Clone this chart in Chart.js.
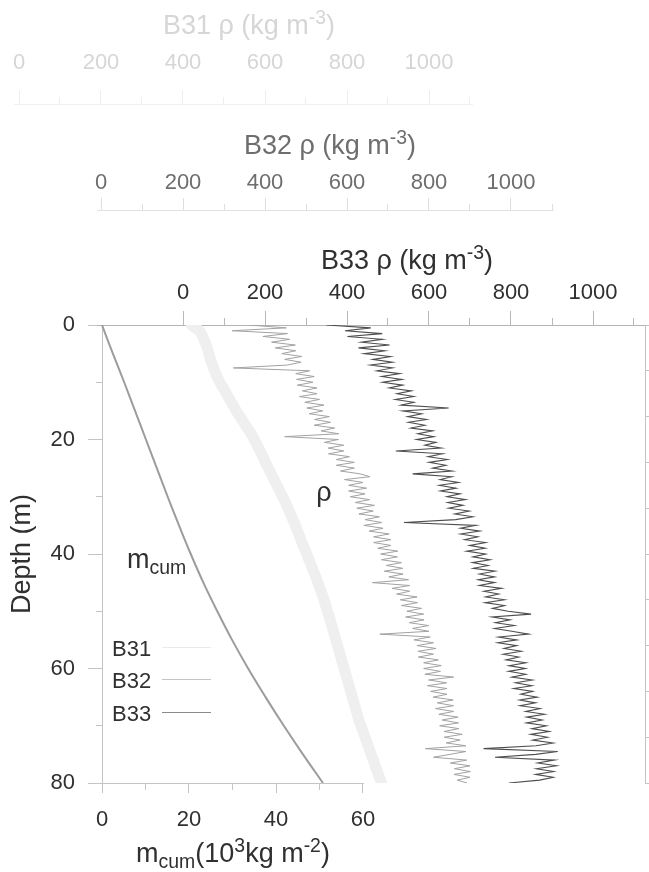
<!DOCTYPE html>
<html>
<head>
<meta charset="utf-8">
<script src="https://cdn.jsdelivr.net/npm/chart.js@4.4.1/dist/chart.umd.min.js"></script>
<style>
html,body{margin:0;padding:0;background:#fff;}
#wrap{width:649px;height:872px;position:relative;}
canvas{display:block;}
</style>
</head>
<body>
<div id="wrap"><canvas id="c" width="649" height="872"></canvas></div>
<script>
// ---------------- data ----------------
const SERIES = ['B31', 'B32', 'B33'];
// depth (m), 1 m steps (B31 profile)
const DEPTH = [0,1,2,3,4,5,6,7,8,9,10,11,12,13,14,15,16,17,18,19,20,21,22,23,24,25,26,27,28,29,30,31,32,33,34,35,36,37,38,39,40,41,42,43,44,45,46,47,48,49,50,51,52,53,54,55,56,57,58,59,60,61,62,63,64,65,66,67,68,69,70,71,72,73,74,75,76,77,78,79,80];
// depth (m), 0.5 m steps (B32, B33 profiles)
const DEPTH_HALF = [0,0.5,1,1.5,2,2.5,3,3.5,4,4.5,5,5.5,6,6.5,7,7.5,8,8.5,9,9.5,10,10.5,11,11.5,12,12.5,13,13.5,14,14.5,15,15.5,16,16.5,17,17.5,18,18.5,19,19.5,20,20.5,21,21.5,22,22.5,23,23.5,24,24.5,25,25.5,26,26.5,27,27.5,28,28.5,29,29.5,30,30.5,31,31.5,32,32.5,33,33.5,34,34.5,35,35.5,36,36.5,37,37.5,38,38.5,39,39.5,40,40.5,41,41.5,42,42.5,43,43.5,44,44.5,45,45.5,46,46.5,47,47.5,48,48.5,49,49.5,50,50.5,51,51.5,52,52.5,53,53.5,54,54.5,55,55.5,56,56.5,57,57.5,58,58.5,59,59.5,60,60.5,61,61.5,62,62.5,63,63.5,64,64.5,65,65.5,66,66.5,67,67.5,68,68.5,69,69.5,70,70.5,71,71.5,72,72.5,73,73.5,74,74.5,75,75.5,76,76.5,77,77.5,78,78.5,79,79.5,80];
const RHO_B31 = [420,440,448,454,459,463,467,472,477,483,490,498,506,514,522,530,539,548,557,566,574,581,588,595,601,608,615,622,629,636,643,650,656,662,668,674,679,685,690,696,702,707,713,718,724,729,734,739,744,748,752,757,761,765,769,773,777,781,785,789,793,797,801,805,809,813,817,821,825,829,834,839,844,849,854,859,864,869,874,879,884];
const RHO_B32 = [
  360,452,320,455,395,460,416,474,425,475,
  441,490,448,488,454,323,509,475,520,477,
  517,479,527,491,527,484,533,497,544,502,
  541,508,557,521,560,520,570,537,580,448,
  579,545,592,554,592,555,606,574,618,574,
  618,584,632,656,594,639,604,648,604,644,
  608,655,620,667,624,664,629,679,644,685,
  641,688,654,703,665,707,665,707,675,724,
  682,723,684,733,696,736,691,737,702,750,
  662,753,710,753,721,771,730,772,733,782,
  746,787,743,788,752,799,760,800,680,803,
  763,811,771,817,773,811,774,823,787,830,
  787,828,790,860,799,843,796,844,804,844,
  810,859,820,860,816,860,824,871,832,872,
  826,873,837,881,837,876,842,890,791,890,
  851,811,892,852,900,862,901,861,900,869,
  893];
const RHO_B33 = [
  350,458,395,486,401,486,435,504,428,492,
  442,506,463,511,457,511,473,529,485,534,
  487,536,503,557,522,563,518,563,532,648,
  536,582,548,594,550,590,556,609,573,612,
  570,617,590,630,519,633,598,645,600,641,
  609,656,560,656,627,672,625,666,628,676,
  644,689,646,683,648,698,663,707,665,539,
  714,677,724,677,719,687,738,699,737,692,
  738,707,749,706,744,708,761,723,760,720,
  760,723,777,734,770,738,784,737,784,755,
  793,849,754,798,762,808,760,802,843,770,
  814,768,814,783,825,781,819,788,836,795,
  835,794,836,802,852,811,851,807,853,824,
  864,821,860,822,871,836,882,838,876,838,
  886,851,893,848,889,853,903,861,733,914,
  860,761,906,865,911,862,904,860,903,870,
  795];
const MCUM_DEPTH = [0,5,10,15,20,25,30,35,40,45,50,55,60,65,70,75,80];
const MCUM = [0,2.5,5.1,7.6,10.1,12.6,15.1,17.7,20.4,23.3,26.5,29.9,33.6,37.6,41.8,46.2,50.8];

// tick labels
const RHO_TICKS = [0,200,400,600,800,1000];
const RHO_MINOR_TICKS = [100,300,500,700,900,1100];
const DEPTH_TICKS = [0,20,40,60,80];
const DEPTH_MINOR_TICKS = [10,30,50,70];
const RIGHT_TICKS = [0,8,16,24,32,40,48,56,64,72,80];
const MCUM_TICKS = [0,20,40,60];
const MCUM_MINOR_TICKS = [10,30,50];

// ---------------- layout / style ----------------
const FONT = "'Liberation Sans', Arial, Helvetica, sans-serif";
const K_RHO = 0.41, K_M = 4.35;
const GEO = {
  xB31: {left: 14, right: 472, top: 0, bottom: 104, zero: 19, k: K_RHO},
  xB32: {left: 97, right: 553, top: 118, bottom: 210, zero: 101, k: K_RHO},
  xB33: {left: 97, right: 645, top: 233, bottom: 325, zero: 183, k: K_RHO},
  x:    {left: 88, right: 363, zero: 102, k: K_M}
};
function lim(id) { const g = GEO[id]; return {min: (g.left - g.zero) / g.k, max: (g.right - g.zero) / g.k}; }
function tickList(a, b) { return a.concat(b).sort((p, q) => p - q).map(v => ({value: v})); }
function isMajor(ctx, arr) { return !!(ctx.tick && arr.includes(ctx.tick.value)); }

const geomPlugin = {
  id: 'geom',
  afterLayout(chart) {
    for (const id in GEO) {
      const s = chart.scales[id], g = GEO[id];
      if (!s) continue;
      s.left = g.left; s.right = g.right; s.width = g.right - g.left;
      if (g.top !== undefined) { s.top = g.top; s.bottom = g.bottom; s.height = g.bottom - g.top; }
      s.configure();
    }
  }
};

function rich(ctx, parts, x, baseY, size, color, align) {
  const ratio = 0.72;
  const pcs = parts.map(([t, m]) => {
    const s = m ? size * ratio : size;
    ctx.font = s + 'px ' + FONT;
    return {t, m, s, w: ctx.measureText(t).width};
  });
  const total = pcs.reduce((a, p) => a + p.w, 0);
  let cx = align === 'center' ? x - total / 2 : x;
  ctx.save();
  ctx.fillStyle = color; ctx.textBaseline = 'alphabetic'; ctx.textAlign = 'left';
  for (const p of pcs) {
    ctx.font = p.s + 'px ' + FONT;
    const dy = p.m === 'sup' ? -size * 0.38 : (p.m === 'sub' ? size * 0.24 : 0);
    ctx.fillText(p.t, cx, baseY + dy);
    cx += p.w;
  }
  ctx.restore();
}

const LEGEND = [
  {name: SERIES[0], color: '#eaeaea', y: 648},
  {name: SERIES[1], color: '#c4c4c4', y: 680},
  {name: SERIES[2], color: '#8a8a8a', y: 713}
];

const textPlugin = {
  id: 'texts',
  afterDraw(chart) {
    const ctx = chart.ctx;
    const rhoUnit = (name) => [[name + ' ρ (kg m', ''], ['-3', 'sup'], [')', '']];
    rich(ctx, rhoUnit(SERIES[0]), 249, 34, 27, '#d6d6d6', 'center');
    rich(ctx, rhoUnit(SERIES[1]), 330, 154, 27, '#6e6e6e', 'center');
    rich(ctx, rhoUnit(SERIES[2]), 407, 269, 27, '#303030', 'center');
    rich(ctx, [['m', ''], ['cum', 'sub'], ['(10', ''], ['3', 'sup'], ['kg m', ''], ['-2', 'sup'], [')', '']], 233, 862, 27, '#303030', 'center');
    rich(ctx, [['ρ', '']], 324, 501, 27, '#303030', 'center');
    rich(ctx, [['m', ''], ['cum', 'sub']], 127, 568, 27, '#303030', 'left');
    for (const L of LEGEND) {
      rich(ctx, [[L.name, '']], 112, L.y + 8, 22, '#303030', 'left');
      ctx.save();
      ctx.strokeStyle = L.color; ctx.lineWidth = 1;
      ctx.beginPath(); ctx.moveTo(162, L.y - 0.5); ctx.lineTo(211, L.y - 0.5); ctx.stroke();
      ctx.restore();
    }
  }
};

function rhoAxis(id, weight, height, tl, minor, pad, labelColor, tickColor, borderColor) {
  const l = lim(id);
  return {
    type: 'linear', position: 'top', weight: weight, bounds: 'data',
    min: l.min, max: l.max,
    afterBuildTicks: s => { s.ticks = tickList(RHO_TICKS, RHO_MINOR_TICKS); },
    afterFit: s => { s.height = height; s.paddingLeft = 0; s.paddingRight = 0; },
    ticks: {autoSkip: false, maxRotation: 0, color: labelColor, font: {size: 22}, padding: pad,
      callback: v => RHO_TICKS.includes(v) ? String(v) : ''},
    grid: {drawOnChartArea: false, tickLength: tl, color: tickColor, tickColor: tickColor,
      tickBorderDash: c => isMajor(c, RHO_TICKS) ? [] : [minor, tl - minor],
      tickBorderDashOffset: c => isMajor(c, RHO_TICKS) ? 0 : minor},
    border: {color: borderColor, width: 1},
    title: {display: false}
  };
}

const xl = lim('x');
const prof = (depths, arr) => depths.map((d, i) => ({x: arr[i], y: d}));

Chart.defaults.font.family = FONT;
Chart.defaults.color = '#303030';

new Chart(document.getElementById('c'), {
  type: 'scatter',
  data: {
    datasets: [
      {label: SERIES[0], data: prof(DEPTH, RHO_B31), xAxisID: 'xB31', yAxisID: 'y', showLine: true,
        borderColor: '#efefef', borderWidth: 11, pointRadius: 0, tension: 0.3, borderCapStyle: 'round'},
      {label: SERIES[1], data: prof(DEPTH_HALF, RHO_B32), xAxisID: 'xB32', yAxisID: 'y', showLine: true,
        borderColor: '#a2a2a2', borderWidth: 1, pointRadius: 0, tension: 0},
      {label: SERIES[2], data: prof(DEPTH_HALF, RHO_B33), xAxisID: 'xB33', yAxisID: 'y', showLine: true,
        borderColor: '#4e4e4e', borderWidth: 1.1, pointRadius: 0, tension: 0},
      {label: 'mcum', data: prof(MCUM_DEPTH, MCUM), xAxisID: 'x', yAxisID: 'y', showLine: true,
        borderColor: '#9c9c9c', borderWidth: 2, pointRadius: 0, tension: 0.4}
    ]
  },
  options: {
    responsive: false, animation: false, events: [],
    layout: {padding: 0, autoPadding: false},
    plugins: {legend: {display: false}, tooltip: {enabled: false}},
    scales: {
      y: {
        type: 'linear', position: 'left', reverse: true, min: 0, max: 80, weight: 1, bounds: 'data',
        afterBuildTicks: s => { s.ticks = tickList(DEPTH_TICKS, DEPTH_MINOR_TICKS); },
        afterFit: s => { s.width = 102; s.paddingTop = 0; s.paddingBottom = 0; },
        ticks: {autoSkip: false, color: '#303030', font: {size: 22}, padding: 13,
          callback: v => DEPTH_TICKS.includes(v) ? String(v) : ''},
        grid: {drawOnChartArea: false, tickLength: 14, color: '#c4c4c4', tickColor: '#c4c4c4',
          tickBorderDash: c => isMajor(c, DEPTH_TICKS) ? [] : [6, 8],
          tickBorderDashOffset: c => isMajor(c, DEPTH_TICKS) ? 0 : 6},
        border: {color: '#c4c4c4', width: 1},
        title: {display: true, text: 'Depth (m)', color: '#303030', font: {size: 27}, padding: {top: 6, bottom: 0}}
      },
      yR: {
        type: 'linear', position: 'right', reverse: true, min: 0, max: 80, bounds: 'data',
        afterBuildTicks: s => { s.ticks = RIGHT_TICKS.map(v => ({value: v})); },
        afterFit: s => { s.width = 4; s.paddingTop = 0; s.paddingBottom = 0; },
        ticks: {display: false, autoSkip: false},
        grid: {drawOnChartArea: false, tickLength: 5, color: '#c4c4c4', tickColor: '#c4c4c4'},
        border: {color: '#c4c4c4', width: 1}
      },
      x: {
        type: 'linear', position: 'bottom', min: xl.min, max: xl.max, weight: 1, bounds: 'data',
        afterBuildTicks: s => { s.ticks = tickList(MCUM_TICKS, MCUM_MINOR_TICKS); },
        afterFit: s => { s.height = 89; s.paddingLeft = 0; s.paddingRight = 0; },
        ticks: {autoSkip: false, maxRotation: 0, color: '#303030', font: {size: 22}, padding: 14,
          callback: v => MCUM_TICKS.includes(v) ? String(v) : ''},
        grid: {drawOnChartArea: false, tickLength: 10, color: '#c4c4c4', tickColor: '#c4c4c4',
          tickBorderDash: c => isMajor(c, MCUM_TICKS) ? [] : [6, 4],
          tickBorderDashOffset: 0},
        border: {color: '#c4c4c4', width: 1},
        title: {display: false}
      },
      xB33: rhoAxis('xB33', 1, 92, 14, 7, 5, '#303030', '#b8b8b8', '#b4b4b4'),
      xB32: rhoAxis('xB32', 2, 115, 12, 6, 2, '#6e6e6e', '#dedede', '#e2e2e2'),
      xB31: rhoAxis('xB31', 3, 118, 14, 7, 14, '#d6d6d6', '#eeeeee', '#f0f0f0')
    }
  },
  plugins: [geomPlugin, textPlugin]
});
</script>
</body>
</html>
